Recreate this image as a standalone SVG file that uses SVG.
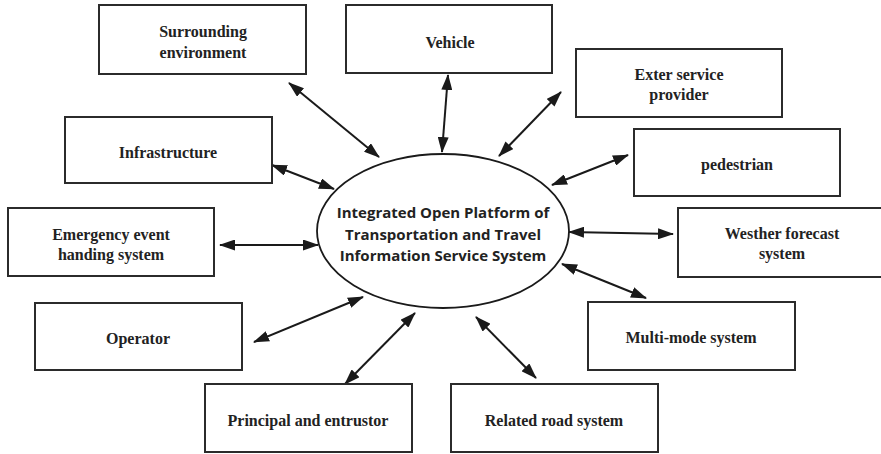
<svg xmlns="http://www.w3.org/2000/svg" width="881" height="454" viewBox="0 0 881 454">
<defs>
<marker id="ah" viewBox="0 0 16 11" refX="15" refY="5.5" markerWidth="16" markerHeight="11" markerUnits="userSpaceOnUse" orient="auto-start-reverse">
<path d="M0,0 L16,5.5 L0,11 z" fill="#1a1a1a"/>
</marker>
</defs>
<style>
.box rect{fill:#fff;stroke:#2b2b2b;stroke-width:2}
.box text{font-family:"Liberation Serif","Times New Roman",serif;font-weight:bold;font-size:16px;fill:#222;text-anchor:middle}
.conn line{stroke:#1a1a1a;stroke-width:2;marker-start:url(#ah);marker-end:url(#ah)}
.hub ellipse{fill:#fff;stroke:#1a1a1a;stroke-width:1.8}
.hub text{font-family:"Open Sans","Noto Sans",sans-serif;font-weight:bold;font-size:15px;fill:#222;text-anchor:middle}
</style>
<rect width="881" height="454" fill="#fff"/>
<g id="connectors" class="conn">
<line x1="289" y1="83" x2="379" y2="157"/>
<line x1="448" y1="75" x2="442" y2="152"/>
<line x1="561" y1="92" x2="499" y2="156"/>
<line x1="628" y1="155" x2="552" y2="185"/>
<line x1="272" y1="165" x2="334" y2="189"/>
<line x1="220" y1="245" x2="318" y2="245"/>
<line x1="569" y1="232" x2="673" y2="234"/>
<line x1="562" y1="264" x2="646" y2="298"/>
<line x1="254" y1="342" x2="363" y2="297"/>
<line x1="345" y1="384" x2="415" y2="313"/>
<line x1="476" y1="317" x2="536" y2="378"/>
</g>
<g id="hub" class="hub">
<ellipse cx="443" cy="231" rx="126" ry="77"/>
<text x="443" y="218">Integrated Open Platform of</text>
<text x="443" y="240">Transportation and Travel</text>
<text x="443" y="261">Information Service System</text>
</g>
<g id="surrounding" class="box"><rect x="99" y="5" width="207" height="69"/><text x="203" y="37">Surrounding</text><text x="203" y="58">environment</text></g>
<g id="vehicle" class="box"><rect x="346" y="5" width="206" height="68"/><text x="450" y="48">Vehicle</text></g>
<g id="exter" class="box"><rect x="576" y="49" width="206" height="68"/><text x="679" y="80">Exter service</text><text x="679" y="100">provider</text></g>
<g id="pedestrian" class="box"><rect x="634" y="129" width="206" height="67"/><text x="737" y="170">pedestrian</text></g>
<g id="infrastructure" class="box"><rect x="65" y="117" width="207" height="66"/><text x="168" y="158">Infrastructure</text></g>
<g id="emergency" class="box"><rect x="8" y="208" width="206" height="68"/><text x="111" y="240">Emergency event</text><text x="111" y="260">handing system</text></g>
<g id="weather" class="box"><rect x="678" y="208" width="208" height="69"/><text x="782" y="239">Westher forecast</text><text x="782" y="259">system</text></g>
<g id="multimode" class="box"><rect x="588" y="302" width="207" height="68"/><text x="691" y="343">Multi-mode system</text></g>
<g id="operator" class="box"><rect x="35" y="303" width="207" height="67"/><text x="138" y="344">Operator</text></g>
<g id="principal" class="box"><rect x="205" y="384" width="207" height="68"/><text x="308" y="426">Principal and entrustor</text></g>
<g id="road" class="box"><rect x="451" y="384" width="207" height="68"/><text x="554" y="426">Related road system</text></g>
</svg>
